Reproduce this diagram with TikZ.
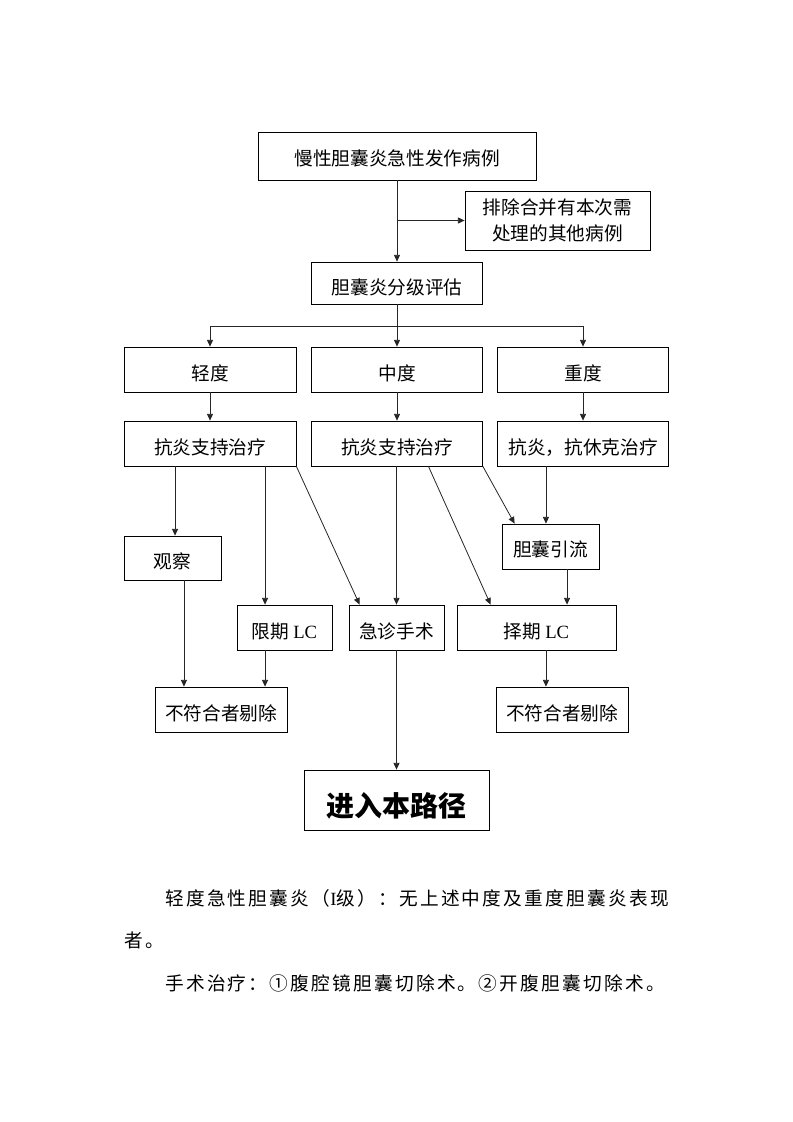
\documentclass[tikz,border=0pt]{standalone}
\usepackage{fontspec}
\setmainfont{Liberation Serif}
\newfontfamily\cjk{Noto Sans CJK SC}
\newfontfamily\cjkspaced{Noto Sans CJK SC}[LetterSpace=12]
\usetikzlibrary{arrows.meta,positioning,calc}
\tikzset{
  % box style is used for the boxes of the chart, block for one-line boxes
  box/.style={draw, rectangle, line width=0.6pt, inner sep=0pt,
  minimum height=33.75pt,
  font=\fontsize{14pt}{20pt}\selectfont\cjk},
  block/.style={box, text height=17pt, text depth=0pt},
  arr/.style={-{Triangle[length=5pt, width=4.5pt]}, line width=0.6pt, draw=black!85},
  plain/.style={line width=0.6pt, draw=black!85},
  note/.style={right, inner sep=0pt, font=\fontsize{14pt}{20pt}\selectfont\cjkspaced}}

\begin{document}
\begin{tikzpicture}[x=0.75pt, y=-0.75pt]
\useasboundingbox (0,0) rectangle (793,1122);

\draw (397,156) node (start) [box, minimum width=208.5pt, minimum height=36pt, text height=14pt, text depth=0pt] {慢性胆囊炎急性发作病例};
\draw (557.5,220.5) node (excl) [box, minimum width=138.75pt, minimum height=44.25pt, align=center] {排除合并有本次需\\处理的其他病例};
\draw (397,283) node (grade) [block, minimum width=128.25pt, minimum height=31.5pt] {胆囊炎分级评估};

\draw (210,369.5) node (mild) [block, minimum width=129pt] {轻度};
\draw (397,369.5) node (mod) [block, minimum width=128.25pt] {中度};
\draw (583,369.5) node (sev) [block, minimum width=128.25pt] {重度};

\draw (210,443.5) node (mildtx) [block, minimum width=129pt] {抗炎支持治疗};
\draw (397,443.5) node (modtx) [block, minimum width=128.25pt] {抗炎支持治疗};
\draw (583,443.5) node (sevtx) [block, minimum width=128.25pt] {抗炎，抗休克治疗};

\draw (172.5,558) node (obs) [block, minimum width=72.75pt, minimum height=33pt, text height=15pt] {观察};
\draw (550.5,546.5) node (drain) [block, minimum width=72.75pt, text height=15pt] {胆囊引流};

\draw (284.5,627.5) node (lclim) [block, minimum width=71.25pt] {限期 {\rmfamily LC}};
\draw (396.5,627.5) node (emerg) [block, minimum width=71.25pt] {急诊手术};
\draw (536.5,627.5) node (lcsel) [block, minimum width=119.25pt] {择期 {\rmfamily LC}};

\draw (221,709.5) node (outL) [block, minimum width=99pt] {不符合者剔除};
\draw (562,709.5) node (outR) [block, minimum width=99pt] {不符合者剔除};

\draw (396.5,800) node (path) [block, minimum width=138.75pt, minimum height=45pt, text height=25pt, font=\fontsize{21pt}{24pt}\selectfont\cjk\bfseries] {进入本路径};

% top part
\draw [arr] (start.south) -- (grade.north);
\draw [arr] (start.south |- excl.west) -- (excl.west);
\path (grade.south) -- +(0,22) coordinate(split);
\draw [plain] (grade.south) -- (split);
\draw [arr] (split) -| (mild.north);
\draw [arr] (split) -| (sev.north);
\draw [arr] (split) -- (mod.north);

\draw [arr] (mild.south) -- (mildtx.north);
\draw [arr] (mod.south) -- (modtx.north);
\draw [arr] (sev.south) -- (sevtx.north);

% mild branch
\draw [arr] ([xshift=1.9pt]obs.north |- mildtx.south) -- ([xshift=1.9pt]obs.north);
\draw [arr] ([xshift=-14.6pt]lclim.north |- mildtx.south) -- ([xshift=-14.6pt]lclim.north);
\draw [arr] (mildtx.south east) -- ([xshift=8.25pt]emerg.north west);

% moderate branch
\draw [arr] (emerg.north |- modtx.south) -- (emerg.north);
\draw [arr] ([xshift=23.6pt]modtx.south) -- ([xshift=25.5pt]lcsel.north west);
\draw [arr] (modtx.south east) -- ([xshift=9.75pt]drain.north west);

% severe branch
\draw [arr] ([xshift=-3.4pt]drain.north |- sevtx.south) -- ([xshift=-3.4pt]drain.north);
\draw [arr] ([xshift=12.4pt]drain.south) -- ([xshift=12.4pt]drain.south |- lcsel.north);

% exits
\draw [arr] ([xshift=8.6pt]obs.south) -- ([xshift=8.6pt]obs.south |- outL.north);
\draw [arr] ([xshift=-14.6pt]lclim.south) -- ([xshift=-14.6pt]lclim.south |- outL.north);
\draw [arr] ([xshift=7.1pt]lcsel.south) -- ([xshift=7.1pt]lcsel.south |- outR.north);
\draw [arr] (emerg.south) -- (emerg.south |- path.north);

% notes below the chart
\draw (165,898) node (note1) [note] {轻度急性胆囊炎（{\rmfamily I}级）：无上述中度及重度胆囊炎表现};
\draw (124,940) node (note2) [note] {者。};
\draw (165,983) node (note3) [note] {手术治疗：①腹腔镜胆囊切除术。②开腹胆囊切除术。};

\end{tikzpicture}
\end{document}
